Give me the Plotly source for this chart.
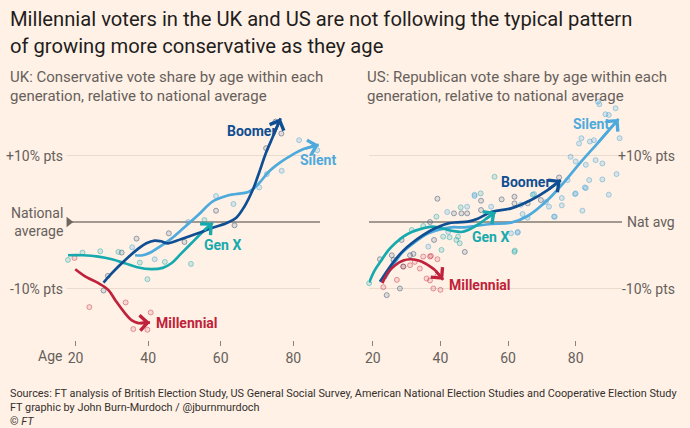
import plotly.graph_objects as go

# ---------------- DATA ----------------
# UK (Conservative vote share vs national average, % pts)
uk_silent_age = [36.4, 38.5, 40.9, 43.5, 46.4, 50, 53.7, 57.8, 62, 67.9, 70.5, 73.3, 76.5, 79.7, 83, 87.0]
uk_silent_val = [-5.0, -5.0, -4.5, -3.6, -2.5, -0.8, 1.0, 3.1, 4.0, 4.6, 5.8, 7.6, 9.0, 10.1, 11.0, 11.6]
uk_boomer_age = [27.7, 29.5, 31.8, 34.5, 37.3, 39.5, 41.8, 43.5, 45.5, 49, 53.7, 57, 61.5, 64.2, 66.5, 68.8, 70.5, 72.4, 74.5, 76.5]
uk_boomer_val = [-9.1, -8.0, -6.7, -5.3, -4.0, -3.2, -2.8, -2.9, -3.2, -2.6, -1.7, -1.0, -0.2, 0.6, 2.3, 4.8, 7.3, 10.3, 13.0, 15.6]
uk_genx_age = [17.9, 22, 26.3, 30, 33.6, 37, 40.9, 44, 46.4, 49, 51.9, 55, 57.8]
uk_genx_val = [-5.0, -5.0, -5.2, -5.6, -6.2, -6.8, -7.1, -6.9, -6.2, -4.8, -3.2, -1.5, -0.1]
uk_mill_age = [19.9, 23, 26.3, 29.0, 31, 33.6, 35.5, 37.3, 40.5]
uk_mill_val = [-7.1, -8.3, -9.2, -10.2, -11.8, -13.7, -14.8, -15.2, -15.1]

uk_silent_dot_age = [35.6, 41.8, 51, 58.7, 63.5, 70.6, 72.7, 76.8, 81.6, 86.6]
uk_silent_dot_val = [-3.8, -5.6, 0.0, 3.9, 2.7, 5.2, 7.2, 7.7, 12.3, 10.8]
uk_boomer_dot_age = [27.7, 28.9, 32.7, 36.8, 45.7, 50, 58.7, 63.8, 72.5, 75.1, 76.7]
uk_boomer_dot_val = [-10.3, -8.1, -4.6, -2.5, -1.7, -3.0, 1.7, -0.5, 11.1, 15.1, 13.3]
uk_genx_dot_age = [17.9, 21.9, 26.8, 31.8, 37.7, 39.8, 44.6, 51.8, 55.5]
uk_genx_dot_val = [-5.7, -4.6, -4.4, -4.5, -6.1, -8.6, -6.0, -6.3, 0.3]
uk_mill_dot_age = [19.7, 23.8, 33.8, 35.9, 37.7, 39.8, 40.7]
uk_mill_dot_val = [-5.4, -12.8, -12.1, -16.1, -19.0, -16.2, -13.6]

# US (Republican vote share vs national average, % pts)
us_silent_age = [23.6, 26, 28.5, 32.5, 36.4, 40, 43.2, 47, 50.1, 55, 60.9, 65.8, 71.7, 76.6, 81.5, 86.4, 92.7]
us_silent_val = [-8.5, -6.5, -4.7, -3.0, -1.7, -1.1, -0.8, -0.8, -0.6, -0.3, -0.1, 0.9, 3.3, 6.0, 9.0, 11.8, 15.5]
us_boomer_age = [22.1, 24.3, 26.6, 29, 31.5, 34.5, 37.4, 40, 42.3, 45, 48.1, 51, 55, 60.9, 66.8, 71.7, 75.6]
us_boomer_val = [-9.0, -7.3, -5.7, -4.3, -3.2, -2.1, -1.2, -0.6, -0.2, -0.05, 0.05, 0.5, 1.5, 2.05, 3.3, 4.8, 6.3]
us_genx_age = [18.9, 20.5, 22.6, 24.5, 26.6, 29, 31.5, 34.5, 37.4, 40, 42.3, 44.5, 46.2, 48.2, 50.1, 53, 56.3]
us_genx_val = [-9.1, -7.3, -5.7, -4.3, -3.2, -2.2, -1.5, -1.0, -0.7, -0.9, -1.2, -1.4, -1.5, -1.2, -0.7, 0.3, 1.5]
us_mill_age = [22.8, 24.5, 26.6, 29, 31.0, 33.5, 35.4, 37, 38.3, 40.8]
us_mill_val = [-9.2, -7.6, -6.5, -5.8, -5.6, -5.8, -6.2, -6.7, -7.2, -8.7]

us_silent_dot_age = [36.4, 42.0, 42.3, 47.9, 50.1, 50.1, 55.0, 60.9, 62.8, 62.9, 63.8, 64.3, 65.8, 67.7, 71.2, 72.1, 73.6, 73.8,
                     75.9, 75.9, 77.6, 78.5, 79.8, 80.0, 80.0, 81.0, 81.7, 82.0, 82.7, 83.0, 83.0, 84.0, 84.2, 85.4,
                     85.9, 86.6, 87.0, 87.9, 87.9, 88.8, 89.8, 89.8, 91.8, 92.1, 93.0]
us_silent_dot_val = [-3.7, 1.5, -1.5, 2.3, 4.1, 3.9, 2.3, -1.7, -1.6, -1.5, 2.6, 1.2, 0.65, 4.2, 3.0, 2.3, 0.8, 0.8,
                     3.6, 2.5, 6.3, 9.8, 4.2, 4.3, 9.1, 11.8, 12.6, 1.7, 5.2, 5.1, 8.6, 6.3, 12.1, 12.3,
                     9.3, 18.1, 17.7, 6.4, 8.8, 16.2, 16.1, 4.1, 17.1, 7.2, 12.6]
us_boomer_dot_age = [22.1, 24.1, 25.6, 26.1, 28.0, 28.5, 29.0, 31.0, 32.0, 36.9, 38.1, 39.1, 44.0, 46.2, 47.2, 47.9,
                     52.0, 52.0, 58.1, 61.9, 61.9, 65.8, 69.7, 75.1]
us_boomer_dot_val = [-5.6, -11.0, -5.0, -5.7, -10.0, -2.7, -6.7, -5.0, -4.8, 0.0, -2.7, 3.5, 1.3, 1.3, -4.5, 1.3,
                     3.2, 1.8, 3.4, 3.8, 2.8, 2.8, 3.3, 6.7]
us_genx_dot_age = [18.9, 31.5, 34.9, 38.8, 40.3, 40.8, 42.7, 44.7, 45.2, 45.7, 46.0, 51.9, 56.0, 61.9, 62.0, 67.3]
us_genx_dot_val = [-9.2, -1.2, -0.6, 0.8, -4.2, -2.2, -2.3, -2.7, -2.2, -3.2, 2.2, 4.3, 6.8, -4.5, -4.3, 4.1]
us_mill_dot_age = [23.1, 27.1, 29.0, 31.0, 32.4, 33.9, 34.9, 35.9, 36.9, 36.9, 37.2, 37.9, 39.1, 39.1, 40.0]
us_mill_dot_val = [-9.8, -8.7, -6.7, -6.5, -6.0, -7.0, -5.2, -8.5, -5.2, -8.8, -5.1, -10.0, -5.6, -8.1, -10.2]

gen_names = ["Silent", "Boomer", "Gen X", "Millennial"]
x_tick_vals = [20, 40, 60, 80]
uk_x_tick_text = ["20", "40", "60", "80"]
us_x_tick_text = ["20", "40", "60", "80"]
y_tick_vals = [-10, 0, 10]
uk_y_tick_text = ["-10% pts", "National<br>average", "+10% pts"]
us_y_tick_text = ["-10% pts", "Nat avg", "+10% pts"]

# ---------------- STYLE ----------------
W, H = 690, 428
BG = "#FFF1E5"
colors = {"Silent": "#4EA9DC", "Boomer": "#0F4E92", "Gen X": "#16A9AE", "Millennial": "#C0223B"}
dot_fill = {"Silent": "rgba(78,169,220,0.2)", "Boomer": "rgba(60,90,130,0.14)",
            "Gen X": "rgba(22,169,174,0.17)", "Millennial": "rgba(192,34,59,0.12)"}
dot_line = {"Silent": "rgba(78,169,220,0.5)", "Boomer": "rgba(70,95,130,0.55)",
            "Gen X": "rgba(22,169,174,0.45)", "Millennial": "rgba(192,34,59,0.42)"}
TXT = "#66605C"
DARK = "#1F1E1D"
FONT = "Roboto, Liberation Sans, sans-serif"

def px_x(p):
    return p / W

def px_y(p):
    return 1 - p / H

# pixel geometry of the two panels
PLOT_TOP, PLOT_BOT = 100, 340
ZERO_PX, PX_PER_PT = 222, 6.65
y_range = [(ZERO_PX - PLOT_BOT) / PX_PER_PT, (ZERO_PX - PLOT_TOP) / PX_PER_PT]
uk_x_range = [20 + (63 - 72) / 3.65, 20 + (318 - 72) / 3.65]
us_x_range = [20 + (367 - 371) / 3.4, 20 + (622 - 371) / 3.4]

fig = go.Figure()

uk = {
    "Silent": (uk_silent_age, uk_silent_val, uk_silent_dot_age, uk_silent_dot_val),
    "Boomer": (uk_boomer_age, uk_boomer_val, uk_boomer_dot_age, uk_boomer_dot_val),
    "Gen X": (uk_genx_age, uk_genx_val, uk_genx_dot_age, uk_genx_dot_val),
    "Millennial": (uk_mill_age, uk_mill_val, uk_mill_dot_age, uk_mill_dot_val),
}
us = {
    "Silent": (us_silent_age, us_silent_val, us_silent_dot_age, us_silent_dot_val),
    "Boomer": (us_boomer_age, us_boomer_val, us_boomer_dot_age, us_boomer_dot_val),
    "Gen X": (us_genx_age, us_genx_val, us_genx_dot_age, us_genx_dot_val),
    "Millennial": (us_mill_age, us_mill_val, us_mill_dot_age, us_mill_dot_val),
}

annotations = []

for data, xa, ya in [(uk, "x", "y"), (us, "x2", "y2")]:
    # dots
    for g in gen_names:
        _, _, dx, dy = data[g]
        fig.add_trace(go.Scatter(
            x=dx, y=dy, mode="markers", xaxis=xa, yaxis=ya, cliponaxis=False,
            marker=dict(size=5, color=dot_fill[g], line=dict(color=dot_line[g], width=1)),
            showlegend=False, hoverinfo="skip"))
    # lines
    for g in ["Silent", "Gen X", "Boomer", "Millennial"]:
        lx, ly, _, _ = data[g]
        fig.add_trace(go.Scatter(
            x=lx, y=ly, mode="lines", xaxis=xa, yaxis=ya, cliponaxis=False,
            line=dict(color=colors[g], width=2.7, shape="spline", smoothing=1.0),
            showlegend=False, hoverinfo="skip"))
        annotations.append(dict(
            x=lx[-1], y=ly[-1], ax=lx[-2], ay=ly[-2], xref=xa, yref=ya,
            axref=xa, ayref=ya, text="", showarrow=True, arrowhead=4,
            arrowsize=1.1, arrowwidth=2.7, arrowcolor=colors[g], standoff=0))

# national-average marker triangle on the UK panel
fig.add_trace(go.Scatter(
    x=[uk_x_range[0] + 0.6], y=[0], mode="markers", xaxis="x", yaxis="y", cliponaxis=False,
    marker=dict(symbol="triangle-right", size=9, color="#6E6661"),
    showlegend=False, hoverinfo="skip"))

axis_common = dict(showgrid=False, zeroline=False, showline=False, ticks="outside",
                   ticklen=5, tickwidth=1, tickcolor="#8A827C", tickvals=x_tick_vals,
                   tickfont=dict(family=FONT, size=14, color=TXT), fixedrange=True)
yaxis_common = dict(range=y_range, tickvals=y_tick_vals, showticklabels=False, ticks="",
                    showgrid=True, gridcolor="#E9DCCF", gridwidth=1,
                    zeroline=True, zerolinecolor="#A2998F", zerolinewidth=2, showline=False,
                    fixedrange=True)

dom_y = [px_y(PLOT_BOT), px_y(PLOT_TOP)]
fig.update_layout(
    width=W, height=H, margin=dict(l=0, r=0, t=0, b=0),
    paper_bgcolor=BG, plot_bgcolor=BG, showlegend=False,
    xaxis=dict(domain=[px_x(63), px_x(318)], range=uk_x_range, ticktext=uk_x_tick_text, anchor="y", **axis_common),
    yaxis=dict(domain=dom_y, anchor="x", **yaxis_common),
    xaxis2=dict(domain=[px_x(367), px_x(622)], range=us_x_range, ticktext=us_x_tick_text, anchor="y2", **axis_common),
    yaxis2=dict(domain=dom_y, anchor="x2", **yaxis_common),
)

def paper_text(text, x, y, size, color, family=FONT, xanchor="left", yanchor="middle", align="left"):
    annotations.append(dict(text=text, x=px_x(x), y=px_y(y), xref="paper", yref="paper",
                            showarrow=False, xanchor=xanchor, yanchor=yanchor, align=align,
                            font=dict(family=family, size=size, color=color)))

# title & subtitles
paper_text("Millennial voters in the UK and US are not following the typical pattern", 4, 19, 20.2, DARK)
paper_text("of growing more conservative as they age", 4, 46, 20.2, DARK)
paper_text("UK: Conservative vote share by age within each", 4, 77, 15, TXT)
paper_text("generation, relative to national average", 4, 96, 15, TXT)
paper_text("US: Republican vote share by age within each", 363, 77, 15, TXT)
paper_text("generation, relative to national average", 363, 96, 15, TXT)

# y tick labels
for v, t in zip(y_tick_vals, uk_y_tick_text):
    py = ZERO_PX - v * PX_PER_PT
    paper_text(t, 61, py, 14, TXT, xanchor="right", align="right")
for v, t in zip(y_tick_vals, us_y_tick_text):
    py = ZERO_PX - v * PX_PER_PT
    paper_text(t, 677, py, 14, TXT, xanchor="right", align="right")

paper_text("Age", 60, 356, 14, TXT, xanchor="right")

# series labels
def series_label(text, g, x, y, xa, ya, xanchor="center"):
    annotations.append(dict(text="<b>" + text + "</b>", x=x, y=y, xref=xa, yref=ya, showarrow=False,
                            xanchor=xanchor, yanchor="middle",
                            font=dict(family=FONT, size=14, color=colors[g])))

series_label("Boomer", "Boomer", 68.5, 13.7, "x", "y")
series_label("Silent", "Silent", 86.7, 9.3, "x", "y")
series_label("Gen X", "Gen X", 60.5, -3.5, "x", "y")
series_label("Millennial", "Millennial", 41.6, -15.2, "x", "y", xanchor="left")
series_label("Boomer", "Boomer", 65.3, 6.0, "x2", "y2")
series_label("Silent", "Silent", 84.6, 14.7, "x2", "y2")
series_label("Gen X", "Gen X", 54.7, -2.3, "x2", "y2")
series_label("Millennial", "Millennial", 41.8, -9.5, "x2", "y2", xanchor="left")

# sources
paper_text("Sources: FT analysis of British Election Study, US General Social Survey, American National Election Studies and Cooperative Election Study",
           4, 393, 10.85, "#33302E")
paper_text("FT graphic by John Burn-Murdoch / @jburnmurdoch", 4, 407, 10.85, "#33302E")
paper_text("© <i>FT</i>", 4, 421, 10.85, "#33302E")

fig.update_layout(annotations=annotations)
fig.write_html("out.html", config={"displayModeBar": False, "staticPlot": True},
               post_script="document.body.style.margin='0';document.body.style.overflow='hidden';")
